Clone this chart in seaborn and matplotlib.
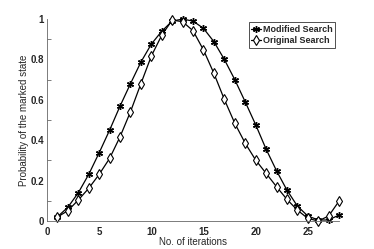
import numpy as np
import pandas as pd
import seaborn as sns
import matplotlib.pyplot as plt
from matplotlib.ticker import MultipleLocator

iterations = list(range(1, 29))
modified = [0.021, 0.068, 0.14, 0.231, 0.338, 0.45, 0.569, 0.68, 0.787, 0.876,
            0.94, 0.99, 1.0, 0.99, 0.954, 0.888, 0.80, 0.70, 0.59, 0.477,
            0.356, 0.249, 0.153, 0.074, 0.025, 0.005, 0.005, 0.03]
original = [0.02, 0.051, 0.104, 0.162, 0.231, 0.31, 0.417, 0.541, 0.68, 0.817,
            0.92, 0.995, 0.987, 0.942, 0.847, 0.731, 0.602, 0.484, 0.385, 0.302,
            0.236, 0.17, 0.107, 0.054, 0.013, 0.0, 0.025, 0.099]

sns.set_style("white")
plt.rcParams["font.family"] = ["Liberation Sans", "DejaVu Sans"]

fig = plt.figure(figsize=(3.74, 2.49), dpi=100)
# axes from x=0 (px 47) to x=28 (px 339)
ax = fig.add_axes([0.1257, 0.1124, 0.781, 0.811])

# asterisk: line-art 6 spokes
sns.lineplot(ax=ax, x=iterations, y=modified, color="black", linewidth=0.9,
             marker=(6, 2, 0), markersize=5, markeredgecolor="black",
             markeredgewidth=1.0, label="Modified Search", clip_on=False)
sns.lineplot(ax=ax, x=iterations, y=original, color="black", linewidth=0.9,
             marker="d", markersize=5.5, markerfacecolor="white",
             markeredgecolor="black", markeredgewidth=0.8, label="Original Search",
             clip_on=False)

ax.set_xlim(0, 28)
ax.set_ylim(0, 1)
ax.set_xticks([0, 5, 10, 15, 20, 25])
ax.yaxis.set_minor_locator(MultipleLocator(0.1))
ax.set_yticks([0, 0.2, 0.4, 0.6, 0.8, 1.0])
ax.set_yticklabels(["0", "0.2", "0.4", "0.6", "0.8", "1"])
ax.tick_params(which="both", direction="in", length=3, width=0.6, color="#666666",
               labelsize=7)
ax.tick_params(axis="y", pad=2)
ax.tick_params(axis="x", pad=4)
ax.tick_params(which="minor", left=True)
for lab in ax.get_xticklabels() + ax.get_yticklabels():
    lab.set_fontweight("bold")
for side in ["top", "right"]:
    ax.spines[side].set_visible(False)
for side in ["left", "bottom"]:
    ax.spines[side].set_color("#666666")
    ax.spines[side].set_linewidth(0.6)

ax.set_xlabel("No. of iterations", fontsize=7, labelpad=0)
ax.set_ylabel("Probability of the marked state", fontsize=7, labelpad=1)

leg = ax.legend(loc="upper left", bbox_to_anchor=(0.69, 0.985), fontsize=6.5,
                frameon=True, fancybox=False, edgecolor="black",
                handlelength=1.1, handletextpad=0.15, borderpad=0.3,
                labelspacing=0.25, borderaxespad=0)
leg.get_frame().set_linewidth(0.6)
for t in leg.get_texts():
    t.set_fontweight("bold")

fig.savefig("out.png", dpi=100)
